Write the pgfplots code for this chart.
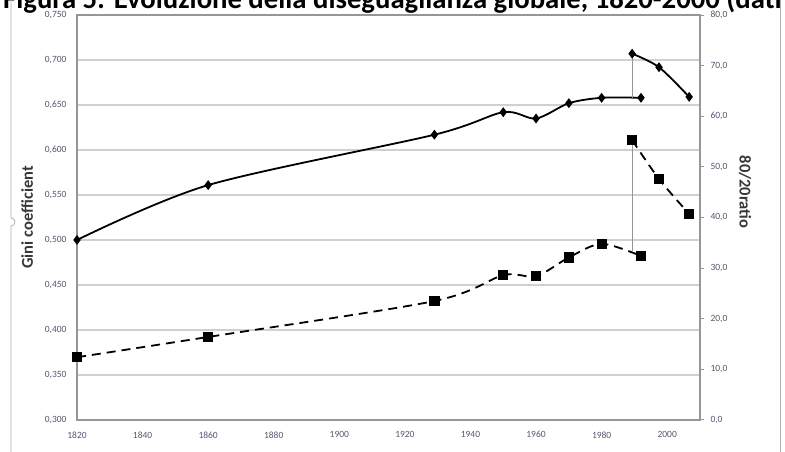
\documentclass[border=0pt]{standalone}
\usepackage{pgfplots}
\pgfplotsset{compat=1.18}
\usepackage{fontspec}
\setmainfont{Carlito}

\definecolor{gridgray}{RGB}{208,208,208}
\definecolor{axisgray}{RGB}{150,150,150}
\definecolor{framegray}{RGB}{175,175,175}
\definecolor{ticktext}{RGB}{85,85,110}
\definecolor{labeltext}{RGB}{55,55,55}

\begin{document}
\begin{tikzpicture}
\useasboundingbox (0pt,0pt) rectangle (785pt,452pt);

% title, cut off at the top like the reference
\node[anchor=base west, inner sep=0pt, font=\fontsize{28.7}{32}\selectfont\bfseries]
  at (3pt,443pt) {Figura 5: Evoluzione della diseguaglianza globale, 1820-2000 (dati};

% chart frame
\draw[framegray, line width=0.8pt] (11pt,0pt) -- (11pt,226pt) arc (-90:90:4pt) -- (11pt,460pt);
\draw[framegray, line width=0.8pt] (780pt,0pt) -- (780pt,460pt);

% Gini coefficient (left axis)
\begin{axis}[
    at={(77pt,32pt)}, anchor=south west,
    scale only axis, width=623pt, height=405pt,
    xmin=1820, xmax=2010,
    ymin=0.3, ymax=0.75,
    xtick={1820,1840,1860,1880,1900,1920,1940,1960,1980,2000},
    ytick={0.30,0.35,0.40,0.45,0.50,0.55,0.60,0.65,0.70,0.75},
    ymajorgrids, grid style={gridgray, line width=1.6pt},
    axis line style={axisgray, line width=1.6pt},
    major tick length=0pt,
    /pgf/number format/assume math mode=true,
    tick label style={font=\fontsize{9.5}{11}\selectfont, text=ticktext},
    xticklabel style={/pgf/number format/1000 sep={}, yshift=-8pt},
    yticklabel style={xshift=-7pt, /pgf/number format/fixed, /pgf/number format/fixed zerofill,
                      /pgf/number format/precision=3, /pgf/number format/use comma},
    ylabel={Gini coefficient},
    ylabel style={at={(axis description cs:-0.080,0.5)}, anchor=center,
                  font=\fontsize{16.5}{19}\selectfont\bfseries, text=labeltext},
    clip=false
]
\addplot[black, line width=1.8pt, smooth, mark=diamond*, mark size=3.5pt] coordinates {
    (1820,0.500) (1860,0.561) (1929,0.617) (1950,0.642) (1960,0.635)
    (1970,0.652) (1980,0.658) (1992,0.658)
};
\addplot[black, line width=1.8pt, smooth, mark=diamond*, mark size=3.5pt] coordinates {
    (1989.3,0.707) (1997.5,0.692) (2006.7,0.659)
};
\addplot[axisgray, line width=1.2pt] coordinates {(1989.3,0.707) (1989.3,0.658)};
\end{axis}

% 80/20 ratio (right axis)
\begin{axis}[
    at={(77pt,32pt)}, anchor=south west,
    scale only axis, width=623pt, height=405pt,
    xmin=1820, xmax=2010,
    ymin=0, ymax=80,
    axis x line=none,
    axis y line*=right,
    ytick={0,10,20,30,40,50,60,70,80},
    axis line style={axisgray, line width=1.6pt},
    tick style={axisgray, line width=1pt},
    tick align=outside, major tick length=4pt,
    /pgf/number format/assume math mode=true,
    tick label style={font=\fontsize{9.5}{11}\selectfont, text=ticktext},
    yticklabel style={xshift=3pt, /pgf/number format/fixed, /pgf/number format/fixed zerofill,
                      /pgf/number format/precision=1, /pgf/number format/use comma},
    ylabel={80/20ratio},
    ylabel style={at={(axis description cs:1.0725,0.563)}, anchor=center, rotate=180,
                  font=\fontsize{16.5}{19}\selectfont\bfseries, text=labeltext},
    clip=false
]
\addplot[black, line width=1.8pt, smooth, dash pattern=on 9pt off 6pt,
         mark=square*, mark size=4.2pt, mark options={solid}] coordinates {
    (1820,12.4) (1860,16.4) (1929,23.5) (1950,28.6) (1960,28.4)
    (1970,32.1) (1980,34.8) (1992,32.4)
};
\addplot[black, line width=1.8pt, smooth, dash pattern=on 9pt off 6pt,
         mark=square*, mark size=4.2pt, mark options={solid}] coordinates {
    (1989.3,55.3) (1997.5,47.6) (2006.7,40.7)
};
\addplot[axisgray, line width=1.2pt] coordinates {(1989.3,55.3) (1989.3,33.1)};
\end{axis}
\end{tikzpicture}
\end{document}
